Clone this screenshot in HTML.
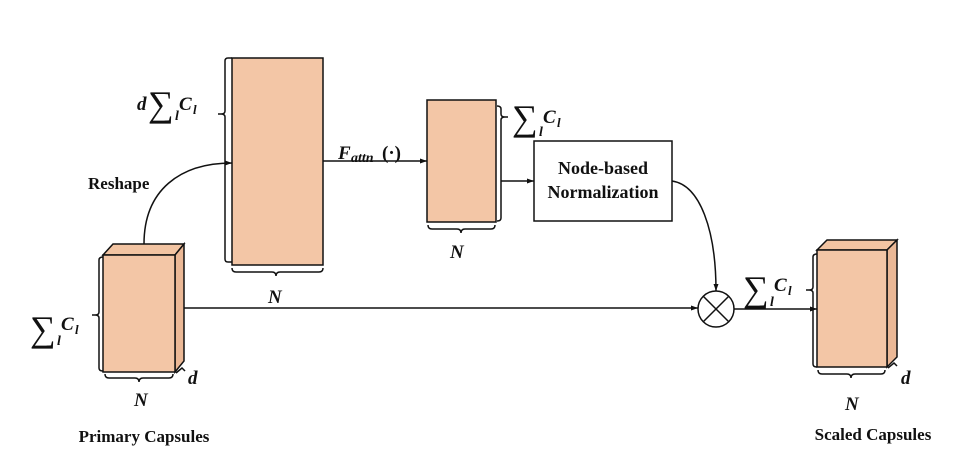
<!DOCTYPE html>
<html><head><meta charset="utf-8"><style>
body{margin:0;background:#fff}
svg{display:block}
text{font-family:"Liberation Serif",serif;fill:#111}
.b{font-weight:bold}
.i{font-style:italic;font-weight:bold}
</style></head><body>
<svg width="972" height="464" viewBox="0 0 972 464" xmlns="http://www.w3.org/2000/svg">
<defs><marker id="a" markerWidth="8" markerHeight="8" refX="7" refY="4" orient="auto" markerUnits="userSpaceOnUse"><path d="M0,1.5 L7,4 L0,6.5z" fill="#111"/></marker></defs>
<g stroke="#111" stroke-width="1.5" fill="none">
<path d="M103,255 L113,244 L184,244 L175,255z" fill="#f2c4a2"/>
<path d="M175,255 L184,244 L184,361 L175,372z" fill="#ebb896"/>
<rect x="103" y="255" width="72" height="117" fill="#f3c6a6"/>
<path d="M817,250 L827,240 L897,240 L887,250z" fill="#f2c4a2"/>
<path d="M887,250 L897,240 L897,357 L887,367z" fill="#ebb896"/>
<rect x="817" y="250" width="70" height="117" fill="#f3c6a6"/>
<rect x="232" y="58" width="91" height="207" fill="#f3c6a6"/>
<rect x="427" y="100" width="69" height="122" fill="#f3c6a6"/>
<rect x="534" y="141" width="138" height="80" fill="#fff"/>
<circle cx="716" cy="309" r="18"/>
<path d="M703,296 L729,322 M729,296 L703,322"/>
<path d="M232,58 h-4 q-3,0 -3,3 v50 q0,3 -4,3 h-3 h3 q4,0 4,3 v142 q0,3 3,3 h4"/>
<path d="M232,268 q0,4 4,4 h36 q4,0 4,4 q0,-4 4,-4 h39 q4,0 4,-4"/>
<path d="M103,257 q-4,0 -4,3 v52 q0,3 -4,3 h-3 h3 q4,0 4,3 v50 q0,3 4,3"/>
<path d="M105,374 q0,4 4,4 h26 q4,0 4,4 q0,-4 4,-4 h26 q4,0 4,-4"/>
<path d="M176,373 l6,-5 l3,3"/>
<path d="M428,225 q0,4 4,4 h25 q4,0 4,4 q0,-4 4,-4 h26 q4,0 4,-4"/>
<path d="M497,106 q4,0 4,3 v5 q0,3 4,3 h3 h-3 q-4,0 -4,3 v98 q0,3 -4,3"/>
<path d="M817,254 q-4,0 -4,3 v30 q0,3 -4,3 h-3 h3 q4,0 4,3 v71 q0,3 4,3"/>
<path d="M818,370 q0,4 4,4 h25 q4,0 4,4 q0,-4 4,-4 h26 q4,0 4,-4"/>
<path d="M888,368 l6,-5 l3,3"/>
<path d="M144,244 C144,190 180,163 232,163" marker-end="url(#a)"/>
<path d="M323,161 H427" marker-end="url(#a)"/>
<path d="M501,181 H534" marker-end="url(#a)"/>
<path d="M672,181 C700,185 716,230 716,291" marker-end="url(#a)"/>
<path d="M184,308 H698" marker-end="url(#a)"/>
<path d="M734,309 H817" marker-end="url(#a)"/>
</g>
<g class="b" font-size="17">
<text x="88" y="189">Reshape</text>
<text x="603" y="174" text-anchor="middle" font-size="18">Node-based</text>
<text x="603" y="198" text-anchor="middle" font-size="18">Normalization</text>
<text x="144" y="442" text-anchor="middle">Primary Capsules</text>
<text x="873" y="440" text-anchor="middle">Scaled Capsules</text>
</g>
<g class="i" font-size="19">
<text x="137" y="110">d</text><text x="148" y="116" font-size="36" font-style="normal" font-weight="normal">∑</text><text x="175" y="120" font-size="14">l</text><text x="179" y="110">C</text><text x="193" y="114" font-size="13">l</text>
<text x="268" y="303">N</text>
<text x="338" y="159">F</text><text x="351" y="162" font-size="14">attn</text><text x="382" y="159" font-style="normal">(·)</text>
<text x="450" y="258">N</text>
<text x="512" y="130" font-size="36" font-style="normal" font-weight="normal">∑</text><text x="539" y="136" font-size="14">l</text><text x="543" y="123">C</text><text x="557" y="127" font-size="13">l</text>
<text x="30" y="341" font-size="36" font-style="normal" font-weight="normal">∑</text><text x="57" y="345" font-size="14">l</text><text x="61" y="330">C</text><text x="75" y="334" font-size="13">l</text>
<text x="134" y="406">N</text>
<text x="188" y="384">d</text>
<text x="743" y="301" font-size="36" font-style="normal" font-weight="normal">∑</text><text x="770" y="306" font-size="14">l</text><text x="774" y="291">C</text><text x="788" y="295" font-size="13">l</text>
<text x="845" y="410">N</text>
<text x="901" y="384">d</text>
</g>
</svg>
</body></html>
